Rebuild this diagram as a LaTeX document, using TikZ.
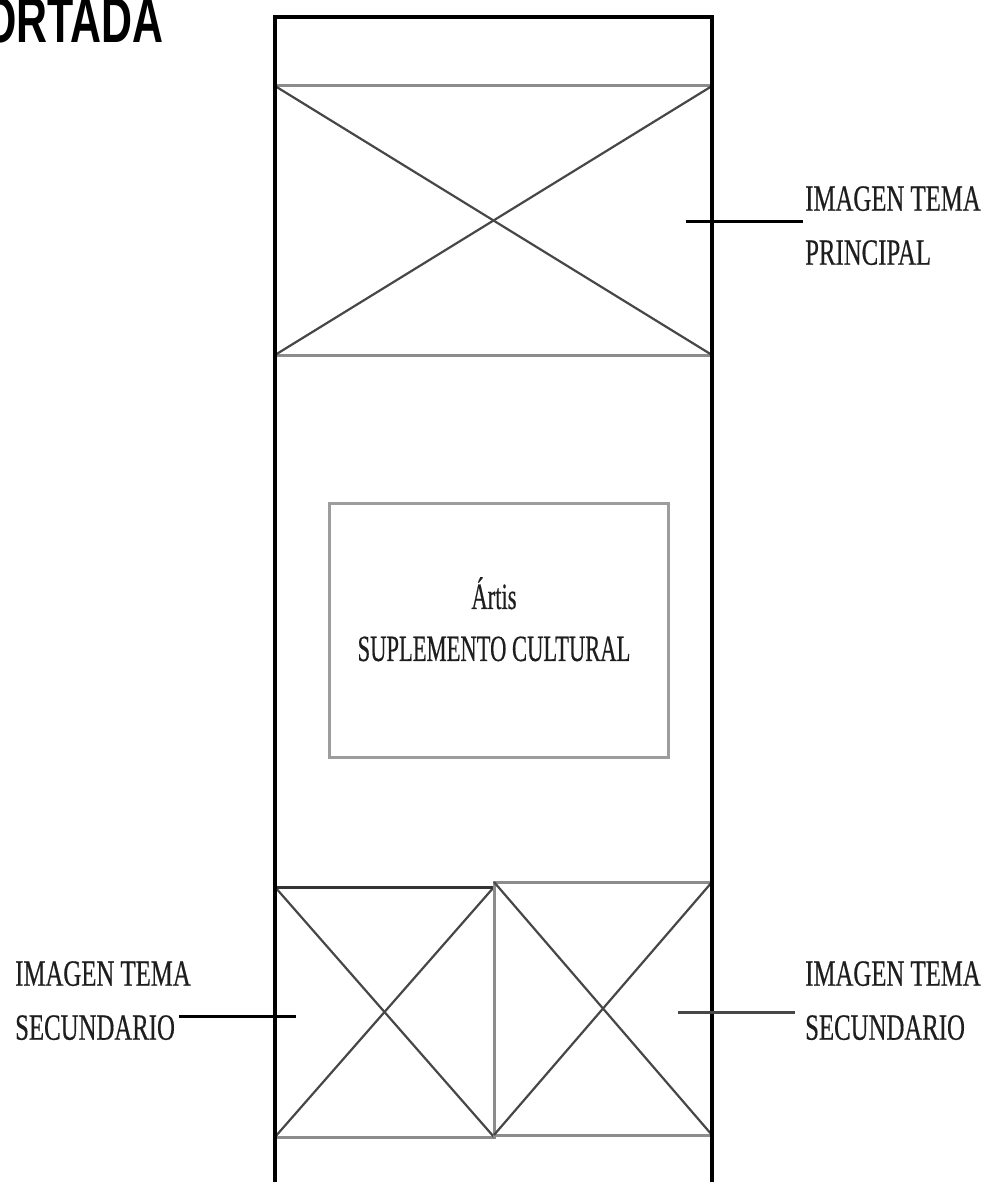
\documentclass[tikz,border=0pt]{standalone}
\usepackage{fontspec}
\setmainfont{Liberation Serif}
\newfontfamily\labelfont[FakeStretch=0.67,FakeBold=0.4]{Liberation Serif}
\newfontfamily\centerfont[FakeStretch=0.61,FakeBold=0.4]{Liberation Serif}
\newfontfamily\titlefont[FakeStretch=0.67]{Liberation Sans}
\definecolor{boxgray}{HTML}{8C8C8C}
\definecolor{diaggray}{HTML}{474747}
\definecolor{inkgray}{HTML}{1E1E1E}
\begin{document}
\begin{tikzpicture}[x=1pt,y=-1pt,
  pageframe/.style={line width=3.5pt, draw=black, line join=miter},
  imgbox/.style={draw=boxgray, line width=3pt, inner sep=0pt, outer sep=0pt, rectangle},
  diag/.style={draw=diaggray, line width=2.2pt},
  titlebox/.style={draw=boxgray!85, line width=3pt, inner sep=0pt, outer sep=0pt, rectangle},
  labeltext/.style={font=\labelfont\fontsize{37}{54}\selectfont, text=inkgray, align=left, inner sep=0pt, anchor=north west},
  centertext/.style={font=\centerfont\fontsize{37}{52}\selectfont, text=inkgray, align=center, inner sep=0pt, anchor=north},
  leader/.style={line width=3pt, draw=black},
  leadergray/.style={line width=3pt, draw=diaggray}
]
\useasboundingbox (0,0) rectangle (985,1182);

% title
\node[anchor=base west, inner sep=0pt, font=\titlefont\bfseries\fontsize{64}{64}\selectfont] (title) at (-17,43) {ORTADA};

% main image box
\node[imgbox, minimum width=437pt, minimum height=269pt] (mainimg) at (493.5,220.5) {};
\draw[diag] (mainimg.north west) -- (mainimg.south east);
\draw[diag] (mainimg.north east) -- (mainimg.south west);

% centre box
\node[titlebox, minimum width=339pt, minimum height=254pt] (supbox) at (498.5,630) {};
\node[centertext] (suptext) at (494,577) {Ártis\\SUPLEMENTO CULTURAL};

% bottom image boxes
\node[imgbox, minimum width=219pt, minimum height=250pt] (leftimg) at (384.5,1012) {};
\draw[diag] (leftimg.north west) -- (leftimg.south east);
\draw[diag] (leftimg.north east) -- (leftimg.south west);
\draw[line width=3pt, draw=black!80] (leftimg.north west) -- (leftimg.north east);

\node[imgbox, minimum width=218pt, minimum height=253pt] (rightimg) at (603,1008.5) {};
\draw[diag] (rightimg.north west) -- (rightimg.south east);
\draw[diag] (rightimg.north east) -- (rightimg.south west);

% page frame (open at the bottom)
\coordinate (pgbl) at (275,1182);
\coordinate (pgtl) at (275,17);
\coordinate (pgtr) at (712,17);
\coordinate (pgbr) at (712,1182);
\draw[pageframe] (pgbl) -- (pgtl) -- (pgtr) -- (pgbr);

% labels
\node[labeltext] (lblmain) at (805,186) {IMAGEN TEMA\\PRINCIPAL};
\coordinate (ldmain) at (686,222);
\draw[leader] (ldmain) -- ([xshift=-2pt]lblmain.west |- ldmain);

\node[labeltext] (lblleft) at (15,961) {IMAGEN TEMA\\SECUNDARIO};
\coordinate (ldleft) at (296,1016);
\draw[leader] ([xshift=-12pt]lblleft.east |- ldleft) -- (ldleft);

\node[labeltext] (lblright) at (805,961) {IMAGEN TEMA\\SECUNDARIO};
\coordinate (ldright) at (678,1012);
\draw[leadergray] (ldright) -- ([xshift=-10pt]lblright.west |- ldright);
\end{tikzpicture}
\end{document}
